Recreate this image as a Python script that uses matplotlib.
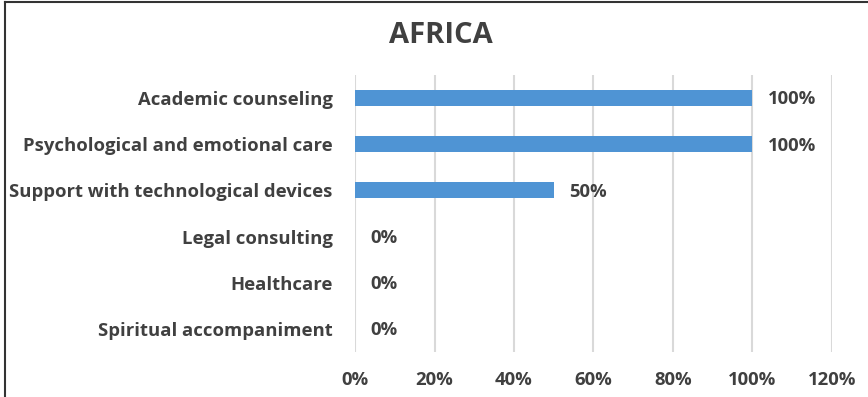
import matplotlib
matplotlib.use("Agg")
import matplotlib.pyplot as plt
from matplotlib.lines import Line2D
from matplotlib.ticker import FuncFormatter

# Szolgáltatások és arányok (Afrika)
services = [
    "Academic counseling",
    "Psychological and emotional care",
    "Support with technological devices",
    "Legal consulting",
    "Healthcare",
    "Spiritual accompaniment",
]
shares = [100, 100, 50, 0, 0, 0]
x_ticks = [0, 20, 40, 60, 80, 100, 120]

BAR_COLOR = "#4f94d4"
TEXT_COLOR = "#404040"
GRID_COLOR = "#d9d9d9"

plt.rcParams["font.family"] = ["Open Sans", "DejaVu Sans"]
plt.rcParams["font.weight"] = "bold"

fig = plt.figure(figsize=(8.68, 3.97), dpi=100)
ax = fig.add_axes([0.409, 0.1134, 0.5495, 0.6977])

pos = list(range(len(services)))
ax.barh(pos, shares, height=0.35, color=BAR_COLOR, zorder=3)

# Értékcímkék a sávok végén
for p, v in zip(pos, shares):
    ax.annotate(f"{v}%", xy=(v, p), xytext=(11, -1), textcoords="offset points",
                va="center", ha="left", fontsize=13.3, fontweight="bold",
                color=TEXT_COLOR)

ax.set_xlim(0, 120)
ax.set_ylim(len(services) - 0.5, -0.5)
ax.set_xticks(x_ticks)
ax.xaxis.set_major_formatter(FuncFormatter(lambda v, _: f"{v:.0f}%"))
ax.set_yticks(pos)
ax.set_yticklabels(services)
ax.tick_params(axis="both", length=0, labelsize=13.3, labelcolor=TEXT_COLOR)
ax.tick_params(axis="x", pad=14)
ax.tick_params(axis="y", pad=16)
for lab in ax.get_xticklabels() + ax.get_yticklabels():
    lab.set_fontweight("bold")

ax.grid(axis="x", color=GRID_COLOR, linewidth=1.5, zorder=0)
for s in ax.spines.values():
    s.set_visible(False)

fig.text(0.508, 0.91, "AFRICA", ha="center", va="center", fontsize=21,
         fontweight="bold", color=TEXT_COLOR)

# Keret a bal és felső szélen
fig.add_artist(Line2D([0.006, 0.006], [0, 0.995], transform=fig.transFigure,
                      color="#333333", linewidth=1.5))
fig.add_artist(Line2D([0.006, 1], [0.995, 0.995], transform=fig.transFigure,
                      color="#333333", linewidth=1.5))

fig.savefig("out.png", dpi=100)
